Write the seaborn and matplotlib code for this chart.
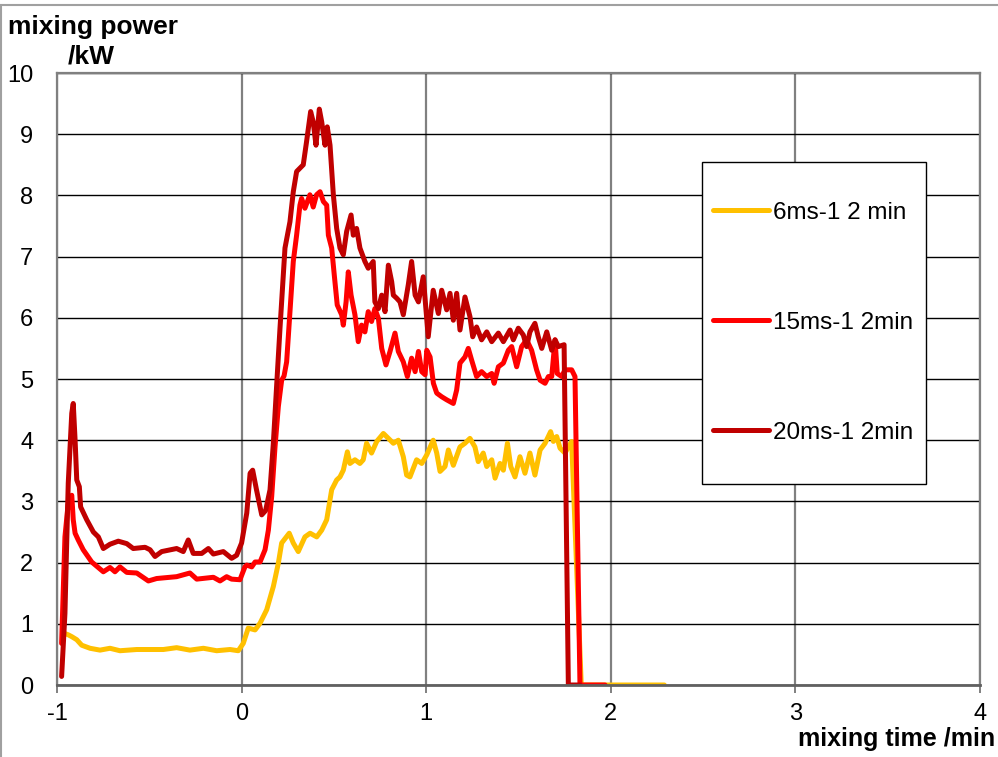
import matplotlib
matplotlib.use("Agg")
import matplotlib.pyplot as plt
from matplotlib.lines import Line2D
from matplotlib.patches import Rectangle
import seaborn as sns
import pandas as pd

# ---------------- data ----------------
series_names = ["6ms-1 2 min", "15ms-1 2min", "20ms-1 2min"]
series_colors = ["#FFC000", "#FF0000", "#C00000"]

t_6 = [-0.965, -0.939, -0.920, -0.893, -0.866, -0.821, -0.767, -0.713, -0.659, -0.568,
       -0.496, -0.424, -0.352, -0.280, -0.207, -0.135, -0.063, -0.018, 0.009, 0.036,
       0.073, 0.100, 0.136, 0.172, 0.199, 0.217, 0.258, 0.280, 0.307, 0.343,
       0.371, 0.407, 0.434, 0.461, 0.488, 0.515, 0.533, 0.551, 0.573, 0.587,
       0.614, 0.641, 0.659, 0.677, 0.704, 0.732, 0.768, 0.795, 0.822, 0.849,
       0.876, 0.894, 0.912, 0.930, 0.948, 0.976, 1.003, 1.038, 1.057, 1.075,
       1.102, 1.120, 1.147, 1.183, 1.210, 1.237, 1.264, 1.282, 1.309, 1.328,
       1.355, 1.373, 1.400, 1.418, 1.440, 1.458, 1.481, 1.508, 1.535, 1.562,
       1.589, 1.617, 1.644, 1.674, 1.689, 1.707, 1.725, 1.752, 1.770, 1.788,
       1.840, 2.290]
p_6 = [0.85, 0.82, 0.79, 0.74, 0.65, 0.60, 0.57, 0.60, 0.56, 0.58,
       0.58, 0.58, 0.61, 0.57, 0.60, 0.56, 0.58, 0.56, 0.68, 0.93,
       0.90, 1.01, 1.23, 1.61, 1.99, 2.32, 2.48, 2.32, 2.18, 2.42,
       2.48, 2.42, 2.53, 2.70, 3.19, 3.35, 3.40, 3.51, 3.81, 3.62,
       3.68, 3.62, 3.68, 3.95, 3.79, 3.98, 4.11, 4.03, 3.95, 4.00,
       3.73, 3.43, 3.40, 3.54, 3.68, 3.62, 3.76, 4.00, 3.79, 3.49,
       3.57, 3.84, 3.59, 3.89, 3.95, 4.03, 3.89, 3.65, 3.79, 3.57,
       3.68, 3.38, 3.62, 3.51, 3.95, 3.57, 3.40, 3.73, 3.46, 3.79,
       3.43, 3.84, 3.95, 4.14, 3.98, 4.06, 3.87, 3.79, 3.89, 3.98,
       0.00, 0.00]

t_15 = [-0.975, -0.957, -0.940, -0.920, -0.912, -0.902, -0.885, -0.858, -0.812, -0.749,
        -0.713, -0.686, -0.659, -0.622, -0.568, -0.505, -0.460, -0.352, -0.280, -0.243,
        -0.153, -0.117, -0.081, -0.054, -0.009, 0.018, 0.028, 0.055, 0.073, 0.100,
        0.127, 0.145, 0.163, 0.181, 0.199, 0.217, 0.230, 0.244, 0.262, 0.280,
        0.298, 0.316, 0.325, 0.343, 0.370, 0.388, 0.406, 0.425, 0.443, 0.461,
        0.470, 0.488, 0.502, 0.518, 0.542, 0.551, 0.566, 0.578, 0.593, 0.614,
        0.632, 0.650, 0.668, 0.686, 0.704, 0.722, 0.741, 0.759, 0.782, 0.804,
        0.831, 0.849, 0.876, 0.898, 0.921, 0.940, 0.958, 0.976, 0.994, 1.003,
        1.021, 1.039, 1.057, 1.084, 1.111, 1.147, 1.165, 1.183, 1.210, 1.228,
        1.246, 1.273, 1.300, 1.328, 1.355, 1.368, 1.391, 1.418, 1.445, 1.463,
        1.490, 1.517, 1.544, 1.571, 1.598, 1.617, 1.644, 1.662, 1.680, 1.698,
        1.710, 1.734, 1.752, 1.788, 1.806, 1.833, 1.969]
p_15 = [0.68, 2.42, 2.95, 3.10, 2.70, 2.48, 2.37, 2.21, 2.01, 1.85,
        1.92, 1.85, 1.93, 1.84, 1.83, 1.70, 1.74, 1.77, 1.83, 1.73,
        1.76, 1.70, 1.77, 1.73, 1.72, 1.93, 1.96, 1.93, 2.01, 2.01,
        2.21, 2.53, 3.08, 3.89, 4.55, 4.98, 5.05, 5.28, 6.10, 6.92,
        7.35, 7.84, 7.95, 7.79, 8.01, 7.81, 8.01, 8.06, 7.90, 7.84,
        7.35, 7.14, 6.70, 6.21, 6.05, 5.88, 6.26, 6.75, 6.37, 6.05,
        5.61, 5.88, 5.77, 6.10, 5.94, 6.15, 5.99, 5.50, 5.23, 5.45,
        5.75, 5.45, 5.28, 5.04, 5.34, 5.12, 5.45, 5.12, 5.07, 5.47,
        5.36, 4.93, 4.77, 4.71, 4.66, 4.60, 4.82, 5.26, 5.36, 5.50,
        5.31, 5.04, 5.12, 5.04, 5.09, 4.93, 5.20, 5.26, 5.47, 5.53,
        5.20, 5.53, 5.64, 5.47, 5.15, 4.98, 4.93, 5.04, 5.04, 5.64,
        5.09, 5.04, 5.15, 5.15, 5.04, 0.00, 0.00]

t_20 = [-0.975, -0.957, -0.948, -0.939, -0.920, -0.912, -0.902, -0.893, -0.879, -0.872,
        -0.839, -0.803, -0.776, -0.749, -0.713, -0.668, -0.622, -0.587, -0.523, -0.496,
        -0.469, -0.433, -0.352, -0.316, -0.289, -0.262, -0.216, -0.180, -0.153, -0.099,
        -0.054, -0.027, 0.000, 0.028, 0.046, 0.060, 0.080, 0.109, 0.130, 0.154,
        0.172, 0.190, 0.208, 0.235, 0.262, 0.280, 0.298, 0.334, 0.352, 0.374,
        0.388, 0.403, 0.421, 0.434, 0.452, 0.464, 0.479, 0.497, 0.515, 0.533,
        0.551, 0.569, 0.593, 0.605, 0.623, 0.641, 0.668, 0.686, 0.713, 0.722,
        0.741, 0.759, 0.777, 0.795, 0.813, 0.822, 0.840, 0.858, 0.876, 0.903,
        0.921, 0.940, 0.958, 0.984, 1.011, 1.038, 1.066, 1.084, 1.111, 1.129,
        1.147, 1.165, 1.183, 1.210, 1.237, 1.252, 1.273, 1.300, 1.328, 1.355,
        1.391, 1.418, 1.454, 1.472, 1.499, 1.526, 1.544, 1.562, 1.589, 1.607,
        1.626, 1.653, 1.680, 1.698, 1.716, 1.747, 1.770, 1.833]
p_20 = [0.14, 1.17, 2.26, 3.30, 4.44, 4.60, 4.00, 3.35, 3.24, 2.91,
        2.70, 2.50, 2.42, 2.23, 2.30, 2.35, 2.31, 2.23, 2.25, 2.21,
        2.10, 2.18, 2.23, 2.18, 2.37, 2.15, 2.15, 2.23, 2.14, 2.18,
        2.07, 2.12, 2.32, 2.81, 3.46, 3.51, 3.20, 2.78, 2.85, 3.19,
        3.95, 4.90, 5.83, 7.14, 7.57, 8.06, 8.39, 8.50, 8.88, 9.37,
        9.20, 8.82, 9.41, 9.20, 8.82, 9.12, 8.82, 8.01, 7.46, 7.14,
        7.03, 7.41, 7.68, 7.35, 7.46, 7.14, 6.92, 6.81, 6.92, 6.26,
        6.15, 6.37, 6.10, 6.86, 6.59, 6.37, 6.32, 6.26, 6.05, 6.54,
        6.92, 6.37, 6.26, 6.67, 5.69, 6.45, 6.07, 6.45, 6.13, 6.40,
        5.96, 6.40, 5.80, 6.34, 6.02, 5.69, 5.85, 5.64, 5.77, 5.61,
        5.75, 5.61, 5.80, 5.64, 5.83, 5.72, 5.53, 5.77, 5.91, 5.69,
        5.50, 5.77, 5.47, 5.64, 5.53, 5.56, 0.00, 0.00]

x_ticks = [-1, 0, 1, 2, 3, 4]
y_ticks = [0, 1, 2, 3, 4, 5, 6, 7, 8, 9, 10]

# ---------------- style ----------------
sns.set_style("white")
plt.rcParams["font.family"] = ["Liberation Sans", "DejaVu Sans"]
plt.rcParams["axes.unicode_minus"] = False
plt.rcParams["text.color"] = "black"

W, H = 998, 757
fig = plt.figure(figsize=(W / 100, H / 100), dpi=100)
ax = fig.add_axes([57 / W, (H - 685) / H, 923 / W, 612 / H])

frames = []
for name, t, p in zip(series_names, [t_6, t_15, t_20], [p_6, p_15, p_20]):
    frames.append(pd.DataFrame({"time": t, "power": p, "series": name}))
df = pd.concat(frames, ignore_index=True)

sns.lineplot(data=df, x="time", y="power", hue="series", hue_order=series_names,
             palette=series_colors, estimator=None, sort=False, units="series",
             linewidth=3.6, legend=False, ax=ax)

ax.set_xlim(-1, 4)
ax.set_ylim(0, 10)
ax.set_xticks(x_ticks)
ax.set_yticks(y_ticks)
ax.set_xticklabels([str(v) for v in x_ticks])
ax.set_yticklabels([str(v) for v in y_ticks])
ax.set_xlabel("")
ax.set_ylabel("")

ax.set_axisbelow(True)
ax.grid(axis="y", color="black", linewidth=1.0)
ax.grid(axis="x", color="#808080", linewidth=1.6)
for s in ax.spines.values():
    s.set_visible(True)
    s.set_color("#808080")
    s.set_linewidth(1.6)
ax.spines["bottom"].set_color("#606060")
ax.spines["bottom"].set_linewidth(2)

ax.tick_params(axis="x", direction="out", length=6, width=1.4, color="#808080",
               pad=7, labelsize=17, labelcolor="black", bottom=True)
ax.tick_params(axis="y", length=0, pad=17, labelsize=17, labelcolor="black", left=True)

# axis titles
fig.text(8 / W, 1 - 34 / H, "mixing power", fontsize=19, fontweight="bold",
         ha="left", va="baseline", color="black")
fig.text(68 / W, 1 - 63 / H, "/kW", fontsize=19, fontweight="bold",
         ha="left", va="baseline", color="black")
fig.text(995 / W, 1 - 746 / H, "mixing time /min", fontsize=18, fontweight="bold",
         ha="right", va="baseline", color="black")

# legend box + legend
box = Rectangle((702 / W, 1 - 484 / H), 224 / W, 322 / H, transform=fig.transFigure,
                facecolor="white", edgecolor="black", linewidth=1.0, zorder=3)
fig.patches.append(box)
handles = [Line2D([0], [0], color=c, linewidth=3.6, solid_capstyle="round")
           for c in series_colors]
leg = fig.legend(handles, series_names, loc="center left",
                 bbox_to_anchor=(713 / W, 1 - 323 / H), bbox_transform=fig.transFigure,
                 frameon=False, fontsize=17.5, borderpad=0, borderaxespad=0,
                 labelspacing=3.62, handlelength=2.3, handletextpad=0.15)
for txt in leg.get_texts():
    txt.set_color("black")

# outer chart border
fig.add_artist(Line2D([0, 1], [1 - 5 / H, 1 - 5 / H], color="#a0a0a0", linewidth=1.5,
                      transform=fig.transFigure))
fig.add_artist(Line2D([1 / W, 1 / W], [0, 1 - 5 / H], color="#a0a0a0", linewidth=1.5,
                      transform=fig.transFigure))

fig.savefig("out.png", dpi=100)
